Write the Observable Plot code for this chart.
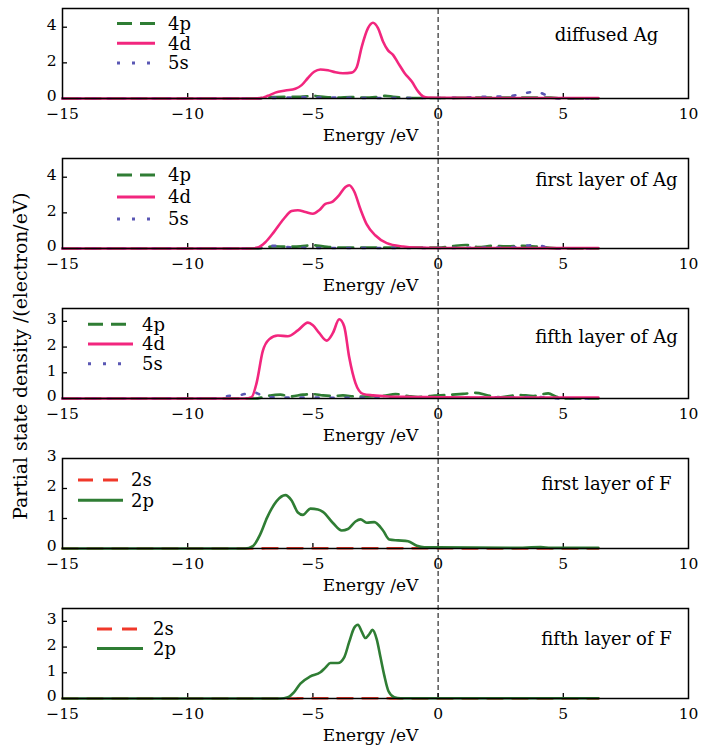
<!DOCTYPE html>
<html><head><meta charset="utf-8">
<script src="https://cdn.jsdelivr.net/npm/d3@7"></script>
<script src="https://cdn.jsdelivr.net/npm/@observablehq/plot@0.6"></script>
<style>
body{margin:0;background:#fff;}
#wrap{position:relative;width:702px;height:747px;overflow:hidden;font-family:"DejaVu Serif",serif;color:#000;}
#ylab{position:absolute;left:20px;top:356px;transform:translate(-50%,-50%) rotate(-90deg);white-space:nowrap;font-size:18.8px;}
svg{display:block;}
</style></head><body>
<div id="wrap"><div id="ylab">Partial state density /(electron/eV)</div><div id="panels"></div></div>
<script>
// ---------- data ----------
const panelTitles = ["diffused Ag", "first layer of Ag", "fifth layer of Ag", "first layer of F", "fifth layer of F"];
const yMaxes = [5.05, 5.05, 3.5, 3.0, 3.5];
const yTickSets = [[0, 2, 4], [0, 2, 4], [0, 1, 2, 3], [0, 1, 2, 3], [0, 1, 2, 3]];
const xTicks = [-15, -10, -5, 0, 5, 10];
const xLabel = "Energy /eV";

const agDiffused4p = [[-15,0],[-7.2,0],[-6.9,0.05],[-6.5,0.08],[-6,0.1],[-5.5,0.1],[-5,0.15],[-4.5,0.08],[-4,0.05],[-3.5,0.08],[-3,0.05],[-2.5,0.08],[-2.1,0.15],[-1.8,0.1],[-1,0.03],[0,0.03],[1,0.04],[2,0.06],[3,0.06],[4,0.06],[4.5,0.05],[5,0.01],[6.4,0]];
const agDiffused4d = [[-15,0],[-7.4,0],[-7.1,0.02],[-6.8,0.15],[-6.5,0.33],[-6.1,0.45],[-5.7,0.55],[-5.45,0.75],[-5.2,1.15],[-4.95,1.5],[-4.7,1.63],[-4.4,1.58],[-4.1,1.47],[-3.8,1.42],[-3.45,1.45],[-3.25,1.75],[-3.05,2.9],[-2.8,3.95],[-2.6,4.25],[-2.4,3.95],[-2.2,3.2],[-2.0,2.7],[-1.8,2.45],[-1.6,2.0],[-1.35,1.45],[-1.05,0.95],[-0.8,0.4],[-0.6,0.12],[-0.4,0.05],[0,0.04],[2,0.03],[4,0.03],[6.4,0.03]];
const agDiffused5s = [[-15,0],[-7.3,0],[-7,0.02],[-6,0.05],[-5.6,0.08],[-5,0.06],[-4,0.05],[-3,0.03],[-2,0.03],[-1,0.03],[0,0.03],[1,0.05],[2,0.1],[2.8,0.12],[3.3,0.25],[3.9,0.38],[4.3,0.2],[4.6,0.03],[5,0],[6.4,0]];

const agFirst4p = [[-15,0],[-7.3,0],[-7,0.03],[-6.6,0.12],[-6,0.1],[-5.5,0.12],[-5,0.18],[-4.6,0.12],[-4,0.05],[-3,0.05],[-2,0.05],[-1,0.05],[0,0.05],[0.5,0.12],[1.1,0.2],[1.6,0.08],[2.2,0.15],[2.7,0.12],[3.4,0.15],[4,0.1],[4.6,0.02],[5,0],[6.4,0]];
const agFirst4d = [[-15,0],[-7.5,0],[-7.2,0.05],[-6.9,0.35],[-6.56,0.92],[-6.16,1.67],[-5.85,2.1],[-5.6,2.15],[-5.3,2.05],[-5.0,1.95],[-4.75,2.15],[-4.5,2.5],[-4.25,2.6],[-3.95,3.0],[-3.7,3.45],[-3.55,3.55],[-3.35,3.2],[-3.1,2.2],[-2.85,1.35],[-2.5,0.73],[-2.05,0.3],[-1.4,0.11],[-0.9,0.05],[0,0.03],[6.4,0.02]];
const agFirst5s = [[-15,0],[-7.6,0],[-7.2,0.02],[-6.6,0.15],[-6,0.08],[-5,0.03],[-4,0.03],[-2,0.03],[0,0.03],[2,0.05],[3,0.08],[3.9,0.2],[4.4,0.05],[5,0],[6.4,0]];

const agFifth4p = [[-15,0],[-7.3,0],[-7,0.05],[-6.7,0.12],[-6.3,0.15],[-5.9,0.08],[-5.4,0.15],[-5,0.17],[-4.6,0.12],[-4.2,0.1],[-3.8,0.12],[-3.3,0.08],[-2.8,0.08],[-2.2,0.1],[-1.7,0.17],[-1.2,0.1],[-0.8,0.06],[-0.3,0.1],[0.4,0.14],[1,0.18],[1.5,0.22],[2.0,0.12],[2.5,0.05],[3.2,0.14],[3.8,0.1],[4.4,0.2],[4.7,0.08],[5,0],[6.4,0]];
const agFifth4d = [[-15,0],[-7.7,0],[-7.45,0.05],[-7.25,0.6],[-7.0,1.85],[-6.75,2.3],[-6.4,2.45],[-6.0,2.42],[-5.6,2.65],[-5.2,2.95],[-5.0,2.85],[-4.75,2.55],[-4.45,2.25],[-4.2,2.55],[-3.95,3.08],[-3.75,2.8],[-3.55,1.6],[-3.3,0.6],[-3.0,0.18],[-2.6,0.12],[-2.0,0.08],[-1,0.06],[0,0.05],[3,0.04],[6.4,0.04]];
const agFifth5s = [[-15,0],[-8.6,0],[-8.4,0.1],[-8,0.12],[-7.7,0.18],[-7.4,0.25],[-7.1,0.15],[-6.8,0.05],[-6,0.04],[-5,0.04],[-4,0.03],[0,0.03],[3,0.05],[4,0.06],[4.6,0.02],[5,0],[6.4,0]];

const fFirst2s = [[-15,0],[-7.1,0],[-6.9,0.01],[0.5,0.01],[0.8,0],[6.4,0]];
const fFirst2p = [[-15,0],[-7.7,0],[-7.4,0.08],[-7.1,0.48],[-6.83,1.03],[-6.45,1.58],[-6.1,1.78],[-5.85,1.6],[-5.6,1.2],[-5.4,1.12],[-5.1,1.33],[-4.8,1.3],[-4.6,1.22],[-4.2,0.85],[-3.85,0.6],[-3.6,0.65],[-3.3,0.9],[-3.1,0.97],[-2.85,0.86],[-2.55,0.88],[-2.2,0.6],[-1.95,0.3],[-1.6,0.27],[-1.2,0.24],[-0.85,0.09],[-0.55,0.04],[0,0.04],[3,0.02],[4.1,0.05],[4.5,0.02],[6.4,0.02]];

const fFifth2s = [[-15,0],[-5.7,0],[-5.5,0.01],[-2,0.01],[-1.8,0],[6.4,0]];
const fFifth2p = [[-15,0],[-6.3,0],[-6.0,0.05],[-5.75,0.25],[-5.5,0.58],[-5.1,0.86],[-4.7,1.02],[-4.5,1.2],[-4.3,1.38],[-4.0,1.38],[-3.75,1.6],[-3.55,2.2],[-3.35,2.75],[-3.2,2.87],[-3.05,2.6],[-2.9,2.35],[-2.75,2.5],[-2.62,2.67],[-2.45,2.3],[-2.3,1.6],[-2.15,0.9],[-1.98,0.28],[-1.75,0.05],[-1.5,0.01],[6.4,0.01]];

const panelSeries = [
  [["4p", agDiffused4p], ["5s", agDiffused5s], ["4d", agDiffused4d]],
  [["4p", agFirst4p], ["5s", agFirst5s], ["4d", agFirst4d]],
  [["4p", agFifth4p], ["5s", agFifth5s], ["4d", agFifth4d]],
  [["2s", fFirst2s], ["2p", fFirst2p]],
  [["2s", fFifth2s], ["2p", fFifth2p]]
];
const legendOrders = [["4p","4d","5s"],["4p","4d","5s"],["4p","4d","5s"],["2s","2p"],["2s","2p"]];

// ---------- styles & layout ----------
const styles = {
  "4p": {stroke: "#2f7d34", dash: "15,8"},
  "4d": {stroke: "#f2267e", dash: null},
  "5s": {stroke: "#5a57b4", dash: "3,12"},
  "2s": {stroke: "#f0382a", dash: "15,10"},
  "2p": {stroke: "#2f7d34", dash: null}
};
const legendLayout = [
  {x0: 55, len: 38, gap: 13, y0: 15.5, step: 19.7},
  {x0: 55, len: 38, gap: 13, y0: 17, step: 22},
  {x0: 26, len: 45, gap: 9, y0: 16.3, step: 19.7},
  {x0: 16, len: 45, gap: 8, y0: 22, step: 20.2},
  {x0: 35, len: 46, gap: 10, y0: 21, step: 19.5}
];
const titleDy = [27, 22, 29, 26, 31];
const fmt = d => (d < 0 ? "\u2212" + Math.abs(d) : String(d));
const W = 702, ML = 62, MR = 14, MT = 8, PH = 90;

function legendMark(keys, lay) {
  return (index, scales, values, dims) => {
    const g = d3.create("svg:g");
    keys.forEach((k, i) => {
      const y = dims.marginTop + lay.y0 + i * lay.step;
      const x1 = dims.marginLeft + lay.x0;
      const s = styles[k];
      g.append("line").attr("x1", x1).attr("x2", x1 + lay.len).attr("y1", y).attr("y2", y)
        .attr("stroke", s.stroke).attr("stroke-width", 3).attr("stroke-dasharray", s.dash);
      g.append("text").attr("x", x1 + lay.len + lay.gap).attr("y", y).attr("dy", "0.35em")
        .attr("text-anchor", "start").attr("font-size", 18).attr("fill", "black").text(k);
    });
    return g.node();
  };
}

const container = document.getElementById("panels");
panelTitles.forEach((title, i) => {
  const H = i === 4 ? 147 : 150;
  const MB = H - MT - PH;
  const yMax = yMaxes[i];
  const perPx = yMax / PH;
  const ruleLo = i === 4 ? 0 : -MB * perPx;
  const ruleHi = i === 0 ? yMax : yMax + MT * perPx;
  const inner = xTicks.slice(1, -1);
  const yInner = yTickSets[i].filter(v => v > 0 && v < yMax);
  const chart = Plot.plot({
    width: W, height: H,
    marginLeft: ML, marginRight: MR, marginTop: MT, marginBottom: MB,
    x: {domain: [-15, 10]},
    y: {domain: [0, yMax]},
    style: {fontFamily: "DejaVu Serif", fontSize: "16px", color: "black", background: "white", overflow: "visible"},
    marks: [
      Plot.ruleX([0], {y1: ruleLo, y2: ruleHi, stroke: "black", strokeWidth: 1, strokeDasharray: "5,3"}),
      Plot.tickX(inner, {x: d => d, insetTop: PH - 5, stroke: "black", strokeWidth: 1.3}),
      Plot.tickY(yInner, {y: d => d, insetRight: W - ML - MR - 5, stroke: "black", strokeWidth: 1.3}),
      ...panelSeries[i].map(([k, data]) => Plot.line(data, {
        x: d => d[0], y: d => d[1], stroke: styles[k].stroke, strokeWidth: 2.6,
        strokeDasharray: styles[k].dash, curve: "monotone-x"
      })),
      Plot.frame({stroke: "black", strokeWidth: 1.5}),
      Plot.axisX({ticks: xTicks, tickSize: 0, tickPadding: 9, tickFormat: fmt, label: null, fontSize: 15.5}),
      Plot.axisY({ticks: yTickSets[i], tickSize: 0, tickPadding: 6, dy: -2, tickFormat: fmt, label: null, fontSize: 15.5}),
      Plot.text([xLabel], {frameAnchor: "bottom", dy: 37, dx: -5, text: d => d, fontSize: 17, lineAnchor: "middle"}),
      Plot.text([title], {frameAnchor: "top-right", dx: -82, dy: titleDy[i], text: d => d, textAnchor: "middle", lineAnchor: "middle", fontSize: 18}),
      legendMark(legendOrders[i], legendLayout[i])
    ]
  });
  container.appendChild(chart);
});
</script>
</body></html>
